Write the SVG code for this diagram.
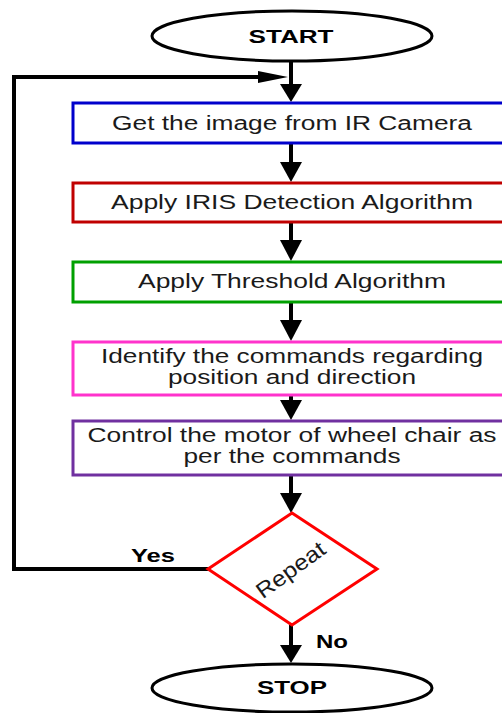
<svg xmlns="http://www.w3.org/2000/svg" width="502" height="713" viewBox="0 0 502 713">
<style>
.t{font-family:"Liberation Sans",Arial,sans-serif;font-size:20px;fill:#1a1a1a;text-anchor:middle}
.b{font-family:"Liberation Sans",Arial,sans-serif;font-size:18px;font-weight:bold;fill:#000;text-anchor:middle}
.box{fill:#fff;stroke-width:3}
.ln{stroke:#000;stroke-width:4;fill:none}
.ah{fill:#000}
</style>
<rect width="502" height="713" fill="#fff"/>
<g id="connectors">
<line class="ln" x1="291" y1="62" x2="291" y2="86"/>
<polygon class="ah" points="280,84 302,84 291,102"/>
<polyline class="ln" points="209,569 14,569 14,77 262,77"/>
<polygon class="ah" points="258,71 258,83 288,77"/>
<line class="ln" x1="291" y1="143" x2="291" y2="164"/>
<polygon class="ah" points="280,162 302,162 291,182"/>
<line class="ln" x1="291" y1="222" x2="291" y2="242"/>
<polygon class="ah" points="280,240 302,240 291,261"/>
<line class="ln" x1="291" y1="302" x2="291" y2="322"/>
<polygon class="ah" points="280,320 302,320 291,341"/>
<line class="ln" x1="291" y1="395" x2="291" y2="402"/>
<polygon class="ah" points="280,400 302,400 291,420"/>
<line class="ln" x1="291" y1="475" x2="291" y2="495"/>
<polygon class="ah" points="280,493 302,493 291,513"/>
<line class="ln" x1="291" y1="625" x2="291" y2="647"/>
<polygon class="ah" points="280,645 302,645 291,663"/>
<text class="b" x="153" y="562" textLength="44" lengthAdjust="spacingAndGlyphs">Yes</text>
<text class="b" x="332" y="648" textLength="32" lengthAdjust="spacingAndGlyphs">No</text>
</g>
<g id="start">
<ellipse cx="292" cy="36" rx="140" ry="25" fill="#fff" stroke="#000" stroke-width="3"/>
<text class="b" x="291" y="43" textLength="85" lengthAdjust="spacingAndGlyphs">START</text>
</g>
<g id="box1">
<rect class="box" x="73" y="103" width="440" height="40" stroke="#0000cc"/>
<text class="t" x="292" y="130" textLength="360" lengthAdjust="spacingAndGlyphs">Get the image from IR Camera</text>
</g>
<g id="box2">
<rect class="box" x="73" y="183" width="440" height="39" stroke="#c00000"/>
<text class="t" x="292" y="209" textLength="362" lengthAdjust="spacingAndGlyphs">Apply IRIS Detection Algorithm</text>
</g>
<g id="box3">
<rect class="box" x="73" y="262" width="440" height="40" stroke="#00a000"/>
<text class="t" x="292" y="288" textLength="308" lengthAdjust="spacingAndGlyphs">Apply Threshold Algorithm</text>
</g>
<g id="box4">
<rect class="box" x="73" y="342" width="440" height="53" stroke="#ff33cc"/>
<text class="t" x="292" y="363" textLength="382" lengthAdjust="spacingAndGlyphs">Identify the commands regarding</text>
<text class="t" x="292" y="384" textLength="248" lengthAdjust="spacingAndGlyphs">position and direction</text>
</g>
<g id="box5">
<rect class="box" x="73" y="421" width="440" height="54" stroke="#7030a0"/>
<text class="t" x="292" y="442" textLength="409" lengthAdjust="spacingAndGlyphs">Control the motor of wheel chair as</text>
<text class="t" x="292" y="463" textLength="217" lengthAdjust="spacingAndGlyphs">per the commands</text>
</g>
<g id="decision">
<polygon points="292,513 377,569 292,625 208,569" fill="#fff" stroke="#ff0000" stroke-width="3"/>
<text class="t" x="0" y="0" transform="translate(295,576) rotate(-36)" textLength="80" lengthAdjust="spacingAndGlyphs" style="font-size:22px">Repeat</text>
</g>
<g id="stop">
<ellipse cx="292" cy="688" rx="140" ry="24" fill="#fff" stroke="#000" stroke-width="3"/>
<text class="b" x="292" y="694" textLength="70" lengthAdjust="spacingAndGlyphs">STOP</text>
</g>
</svg>
